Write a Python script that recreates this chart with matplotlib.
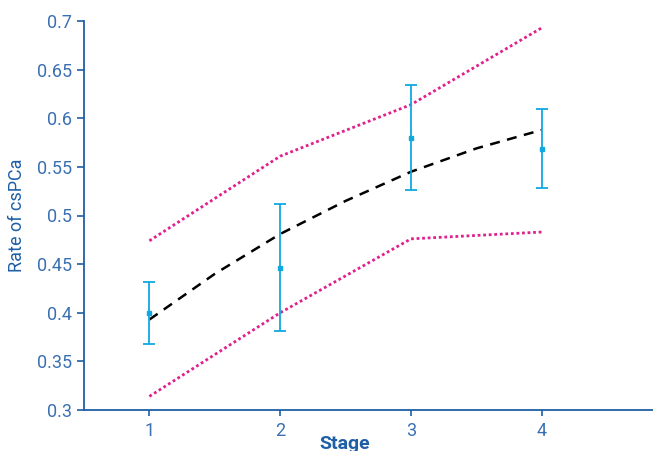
import numpy as np
import matplotlib
matplotlib.use("Agg")
from matplotlib import pyplot as plt
from matplotlib import font_manager

# observed rates with error bars
stages = [1, 2, 3, 4]
rate_obs = [0.400, 0.446, 0.580, 0.568]
err_low = [0.3675, 0.381, 0.526, 0.528]
err_high = [0.432, 0.512, 0.634, 0.609]

# fitted curve
fit_x = [1, 1.5, 2, 2.5, 3, 3.5, 4]
fit_y = [0.393, 0.440, 0.481, 0.515, 0.545, 0.569, 0.588]

# bounds (dotted)
upper = [0.474, 0.561, 0.614, 0.693]
lower = [0.314, 0.400, 0.476, 0.483]

names = {f.name for f in font_manager.fontManager.ttflist}
fam = ["Liberation Sans Narrow", "DejaVu Sans"] if "Liberation Sans Narrow" in names else ["Roboto", "DejaVu Sans"]
plt.rcParams['font.family'] = fam

axis_col = "#1f5fa6"
label_col = "#3a70b2"
err_col = "#10a8e0"
mag = "#e0208c"

fig = plt.figure(figsize=(6.53, 4.51), dpi=100)
ax = fig.add_axes([84/653, 41/451, 1 - 84/653, 389/451])

ax.plot(stages, upper, color=mag, linestyle=(0, (1, 1)), linewidth=2)
ax.plot(stages, lower, color=mag, linestyle=(0, (1, 1)), linewidth=2)
ax.plot(fit_x, fit_y, color="black", linestyle=(0, (4, 3)), linewidth=1.8)

yerr = [np.array(rate_obs) - np.array(err_low), np.array(err_high) - np.array(rate_obs)]
ax.errorbar(stages, rate_obs, yerr=yerr, fmt="s", markersize=2.5, color=err_col,
            ecolor=err_col, elinewidth=1.3, capsize=4, capthick=1.3)

ax.set_xlim(0.5, 4.85)
ax.set_ylim(0.3, 0.7)
ax.set_xticks([1, 2, 3, 4])
ax.set_yticks([0.3, 0.35, 0.4, 0.45, 0.5, 0.55, 0.6, 0.65, 0.7])
ax.set_yticklabels(["0.3", "0.35", "0.4", "0.45", "0.5", "0.55", "0.6", "0.65", "0.7"])

for s in ["top", "right"]:
    ax.spines[s].set_visible(False)
for s in ["left", "bottom"]:
    ax.spines[s].set_color(axis_col)
    ax.spines[s].set_linewidth(1.3)

ax.tick_params(axis="both", colors=axis_col, labelcolor=label_col, labelsize=13,
               direction="out", length=5, width=1.2)
ax.tick_params(axis="x", length=4, pad=5)
ax.set_xlabel("Stage", fontsize=14, color=axis_col, fontweight="bold")
ax.xaxis.set_label_coords((345 - 84) / 569, -0.063, transform=ax.transAxes)
ax.xaxis.label.set_va("top")
ax.set_ylabel("Rate of csPCa", fontsize=13, color=axis_col)
ax.yaxis.set_label_coords(-(84 - 26) / 569, 0.5, transform=ax.transAxes)

fig.savefig("out.png", dpi=100)
